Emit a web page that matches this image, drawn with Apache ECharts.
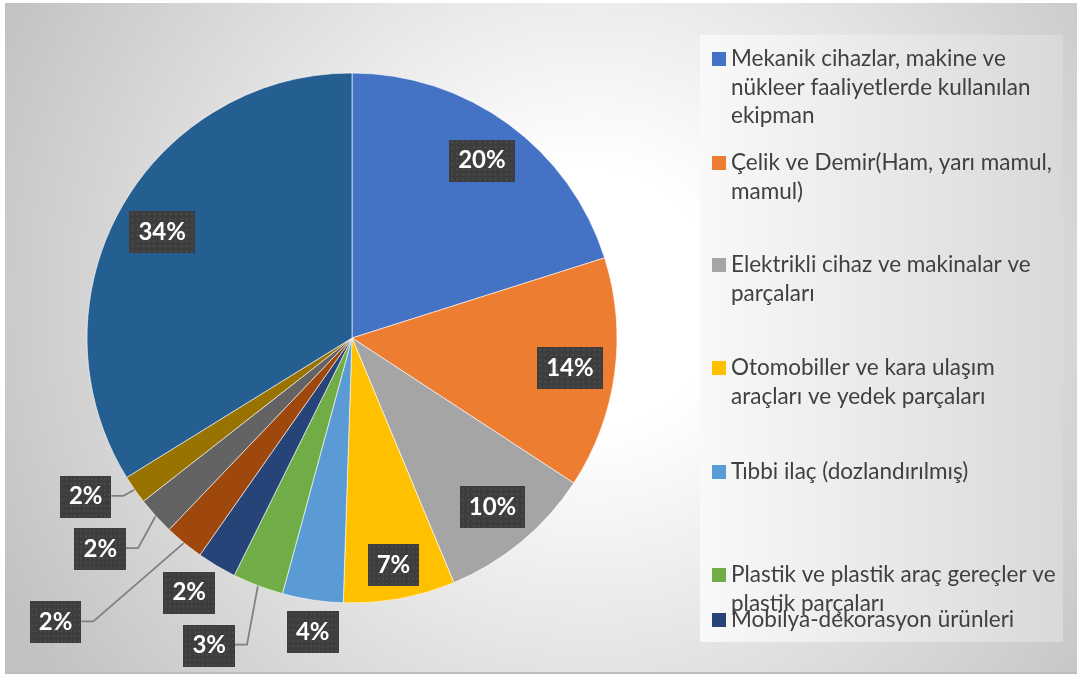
<!DOCTYPE html>
<html>
<head>
<meta charset="utf-8">
<script src="https://cdn.jsdelivr.net/npm/echarts@6/dist/echarts.min.js"></script>
<style>
  html, body { margin: 0; background: #fff; }
  #chart { position: absolute; left: 5px; top: 3px; width: 1072px; height: 669px; border-bottom: 2px solid #bdbdbd; }
</style>
</head>
<body>
<div id="chart"></div>
<script>
// kategoriler (son dördü lejantta görünmüyor)
const categories = [
  'Mekanik cihazlar, makine ve nükleer faaliyetlerde kullanılan ekipman',
  'Çelik ve Demir(Ham, yarı mamul, mamul)',
  'Elektrikli cihaz ve makinalar ve parçaları',
  'Otomobiller ve kara ulaşım araçları ve yedek parçaları',
  'Tıbbi ilaç (dozlandırılmış)',
  'Plastik ve plastik araç gereçler ve plastik parçaları',
  'Mobilya-dekorasyon ürünleri',
  'Diğer 1',
  'Diğer 2',
  'Diğer 3',
  'Diğer 4'
]
const legendText = [
  'Mekanik cihazlar, makine ve\nnükleer faaliyetlerde kullanılan\nekipman',
  'Çelik ve Demir(Ham, yarı mamul,\nmamul)',
  'Elektrikli cihaz ve makinalar ve\nparçaları',
  'Otomobiller ve kara ulaşım\naraçları ve yedek parçaları',
  'Tıbbi ilaç (dozlandırılmış)',
  'Plastik ve plastik araç gereçler ve\nplastik parçaları',
  'Mobilya-dekorasyon ürünleri'
]
const values = [20.1, 14.1, 9.5, 6.8, 3.7, 3.1, 2.4, 2.4, 2.3, 1.75, 33.8]
const colors = ['#4472C4', '#ED7D31', '#A5A5A5', '#FFC000', '#5B9BD5', '#70AD47',
  '#264478', '#9E480E', '#636363', '#997300', '#255E91']

// etiket yerleşimi (merkeze göre yarıçap oranı, açı; null = dilim ortası)
const labelRadius = [0.83, 0.83, 0.83, 0.87, 1.12, 1.28, 1.14, 1.55, 1.24, 1.17, 0.82]
const labelAngle = [null, null, null, null, 187.6, 204.9, 212.6, 226.2, 230, 239.2, null]
const hasLine = [false, false, false, false, false, true, false, true, true, true, false]
// lejant simge merkezleri (y)
const legendY = [56, 160, 262, 365, 469, 572, 617]

const CX = 347, CY = 335, R = 265
const LH = 28.5
const LABEL_FONT = 'bold 24px Lato'

const total = values.reduce((a, b) => a + b, 0)
const midAngles = []
let acc = 0
values.forEach(v => { midAngles.push((acc + v / 2) / total * 360); acc += v })

// noktalı etiket arka planı
const dots = document.createElement('canvas')
dots.width = 64; dots.height = 42
const dc = dots.getContext('2d')
dc.fillStyle = '#3d3d3d'
dc.fillRect(0, 0, 64, 42)
dc.fillStyle = '#4c4c4c'
for (let y = 2; y < 42; y += 5.3) {
  for (let x = 2; x < 64; x += 5.3) dc.fillRect(Math.round(x), Math.round(y), 2, 2)
}
const measure = document.createElement('canvas').getContext('2d')

const legends = legendText.map((txt, i) => {
  const n = txt.split('\n').length
  const h = n * LH
  const a = LH / 2 - 7
  return {
    left: 707,
    top: legendY[i] - LH / 2,
    orient: 'vertical',
    padding: 0,
    itemWidth: 14,
    itemHeight: h,
    selectedMode: false,
    data: [{
      name: categories[i],
      icon: `path://M0,0M14,${h}M0,${a}L14,${a}L14,${a + 14}L0,${a + 14}Z`
    }],
    formatter: () => txt,
    itemStyle: { borderWidth: 0 },
    textStyle: { fontFamily: 'Lato', fontSize: 22.5, lineHeight: LH, color: '#404040' }
  }
})

const chart = echarts.init(document.getElementById('chart'))
chart.setOption({
  backgroundColor: {
    type: 'radial', x: 0.546, y: 0.443, r: 0.98,
    colorStops: [
      { offset: 0, color: '#ffffff' },
      { offset: 0.2, color: '#ffffff' },
      { offset: 0.4, color: '#f0f0f0' },
      { offset: 1, color: '#c2c2c2' }
    ]
  },
  animation: false,
  graphic: [{
    type: 'rect', z: 0,
    shape: { x: 695, y: 32, width: 363, height: 607 },
    style: {
      fill: {
        type: 'linear', x: 0, y: 0, x2: 1, y2: 0,
        colorStops: [{ offset: 0, color: '#f9f9f9' }, { offset: 1, color: '#d9d9d9' }]
      }
    }
  }],
  legend: legends,
  series: [{
    type: 'pie',
    center: [CX, CY],
    radius: [0, R],
    startAngle: 90,
    clockwise: true,
    avoidLabelOverlap: false,
    itemStyle: { borderColor: 'rgba(255,255,255,0.6)', borderWidth: 1 },
    label: {
      show: true,
      formatter: p => Math.round(p.percent) + '%',
      fontFamily: 'Lato', fontWeight: 'bold', fontSize: 24, lineHeight: 25,
      color: '#fff',
      backgroundColor: { image: dots },
      padding: [9, 9, 8, 9],
      shadowColor: 'rgba(0,0,0,0.45)', shadowBlur: 6, shadowOffsetX: 3, shadowOffsetY: 3
    },
    labelLine: { show: false, lineStyle: { color: '#808080', width: 1.75 } },
    labelLayout: function (p) {
      const i = p.dataIndex
      const a = (labelAngle[i] == null ? midAngles[i] : labelAngle[i]) * Math.PI / 180
      const r = labelRadius[i] * R
      const x = CX + r * Math.sin(a)
      const y = CY - r * Math.cos(a)
      const res = { x: x, y: y, align: 'center', verticalAlign: 'middle' }
      if (hasLine[i]) {
        measure.font = LABEL_FONT
        const w = measure.measureText(p.text).width + 18
        const m = midAngles[i] * Math.PI / 180
        const right = x + w / 2
        res.labelLinePoints = [
          [CX + R * Math.sin(m), CY - R * Math.cos(m)],
          [right + 12, y - 1],
          [right, y - 1]
        ]
      }
      return res
    },
    data: categories.map((name, i) => ({
      name: name,
      value: values[i],
      itemStyle: { color: colors[i] },
      label: { position: hasLine[i] ? 'outside' : 'inside' },
      labelLine: { show: hasLine[i] }
    }))
  }]
})
</script>
</body>
</html>
